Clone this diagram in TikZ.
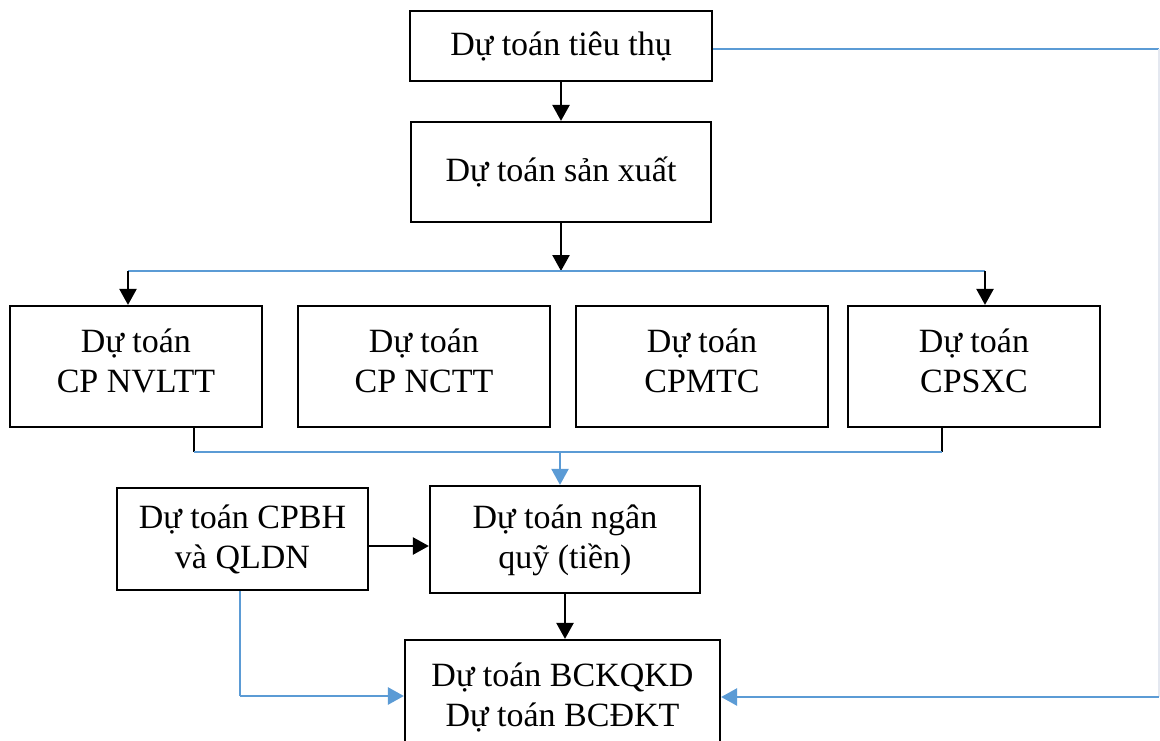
\documentclass[tikz,border=0pt]{standalone}
\usepackage{fontspec}
\setmainfont{Liberation Serif}
\usetikzlibrary{arrows.meta,calc}
\definecolor{lblue}{HTML}{5B9BD5}
\definecolor{faint}{HTML}{E4E8F0}
\begin{document}
\begin{tikzpicture}[x=1pt,y=-1pt,
  box/.style={draw=black,line width=2.2pt,align=center,inner sep=0pt,
    font=\fontsize{34}{40}\selectfont},
  blk/.style={draw=black,line width=2.4pt},
  blkarr/.style={blk,-{Triangle[width=17pt,length=16pt]}},
  bl/.style={draw=lblue,line width=1.4pt},
  blarr/.style={draw=lblue,line width=2.6pt,-{Triangle[width=17pt,length=16pt]}},
  cpbox/.style={box,minimum width=252pt,minimum height=121pt,text depth=12pt},
]
\clip (0,0) rectangle (1160,740);
\fill[white] (0,0) rectangle (1160,740);
% nodes
\node[box,minimum width=302pt,minimum height=70pt] (t1) at (561,46) {Dự toán tiêu thụ};
\node[box,minimum width=300pt,minimum height=100pt] (t2) at (561,172) {Dự toán sản xuất};
\node[cpbox] (b1) at (136,366.5) {Dự toán\\CP NVLTT};
\node[cpbox] (b2) at (424,366.5) {Dự toán\\CP NCTT};
\node[cpbox] (b3) at (702,366.5) {Dự toán\\CPMTC};
\node[cpbox] (b4) at (974,366.5) {Dự toán\\CPSXC};
\node[box,minimum width=251pt,minimum height=102pt] (c1) at (242.5,539) {Dự toán CPBH\\và QLDN};
\node[box,minimum width=270pt,minimum height=107pt,text depth=6pt] (c2) at (565,539.5) {Dự toán ngân\\quỹ (tiền)};
\node[box,minimum width=315pt,minimum height=110pt,text depth=0pt] (d) at (562.5,695) {Dự toán BCKQKD\\Dự toán BCĐKT};
% coordinates
\coordinate (jt) at (561,271);
\coordinate (jl) at (128,271);
\coordinate (jr) at (985,271);
\coordinate (l1) at (194,452);
\coordinate (l4) at (942,452);
\coordinate (lm) at (560,452);
\coordinate (cb) at (240,696);
\coordinate (rt) at (1159,49);
\coordinate (rb) at (1159,697);
% connectors
\draw[blkarr] (t1.south) -- (t2.north);
\draw[blkarr] (t2.south) -- (jt);
\draw[bl] (jl) -- (jr);
\draw[blkarr] (jl) -- (jl |- b1.north);
\draw[blkarr] (jr) -- (jr |- b4.north);
\draw[blk] (l1 |- b1.south) -- (l1);
\draw[blk] (l4 |- b4.south) -- (l4);
\draw[bl] (l1) -- (l4);
\draw[blarr,line width=2.2pt] (lm) -- (lm |- c2.north);
\draw[blkarr] (c1.east |- 0,546) -- (c2.west |- 0,546);
\draw[blkarr] (c2.south) -- (c2.south |- d.north);
\draw[bl] (cb |- c1.south) -- (cb);
\draw[blarr] (cb) -- (d.west |- cb);
\draw[draw=lblue,line width=1.8pt] (t1.east |- rt) -- (rt);
\draw[draw=faint,line width=1.2pt] (rt) -- (rb);
\draw[blarr] (rb) -- (d.east |- rb);
\end{tikzpicture}
\end{document}
